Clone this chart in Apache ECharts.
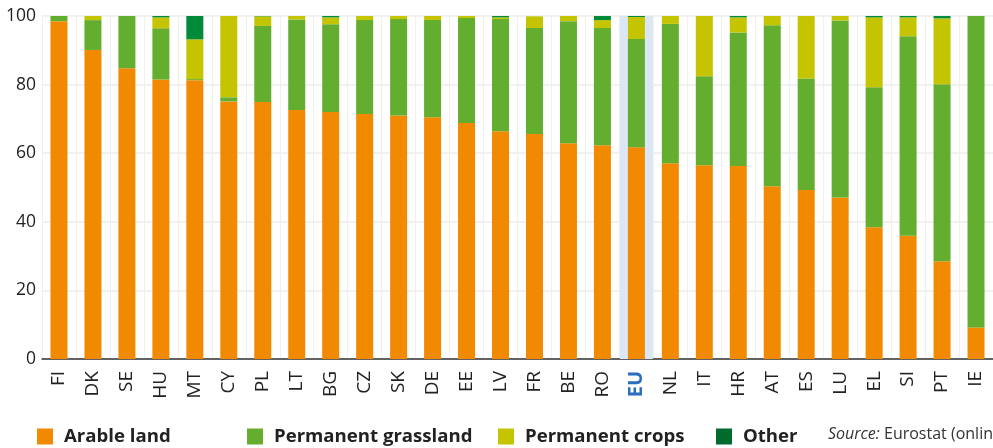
<!DOCTYPE html>
<html>
<head>
<meta charset="utf-8">
<script src="https://cdn.jsdelivr.net/npm/echarts@6/dist/echarts.min.js"></script>
<style>
html,body{margin:0;padding:0;background:#fff;}
#chart{width:993px;height:448px;}
</style>
</head>
<body>
<div id="chart"></div>
<script>
var categories = ['FI','DK','SE','HU','MT','CY','PL','LT','BG','CZ','SK','DE','EE','LV','FR','BE','RO','EU','NL','IT','HR','AT','ES','LU','EL','SI','PT','IE'];
var arableLand = [98.5,90.1,84.8,81.5,81.3,75.1,74.9,72.6,72.0,71.4,71.0,70.5,68.8,66.4,65.6,62.9,62.3,61.7,57.1,56.5,56.3,50.4,49.3,47.1,38.4,35.9,28.5,9.2];
var permanentGrassland = [1.5,8.7,15.2,14.9,0.3,1.2,22.2,26.4,25.6,27.4,28.1,28.3,30.6,32.7,30.9,35.6,34.2,31.6,40.6,25.9,38.9,46.9,32.5,51.6,40.8,58.2,51.6,90.8];
var permanentCrops = [0,1.2,0,3.2,11.6,23.7,2.8,1.0,2.0,1.2,0.9,1.2,0.6,0.5,3.4,1.5,2.3,6.4,2.3,17.6,4.4,2.7,18.2,1.3,20.4,5.5,19.2,0];
var other = [0,0,0,0.4,6.8,0,0.1,0,0.4,0,0,0,0,0.4,0,0,1.2,0.3,0,0,0.4,0,0,0,0.4,0.4,0.7,0];
var yTicks = [0,20,40,60,80,100];
var highlightCategory = 'EU';
var seriesNames = ['Arable land','Permanent grassland','Permanent crops','Other'];
var sourceText = 'Eurostat (online data code: ef_lus_main)';

var colors = ['#f18a00','#63ad2f','#c4c400','#008a3a'];
var font = "'Open Sans', 'DejaVu Sans', sans-serif";

var chart = echarts.init(document.getElementById('chart'), null, {renderer:'canvas'});

var bandData = categories.map(function(c){ return c === highlightCategory ? 100 : null; });

function makeLegend(name, left, iconColor){
  return {
    data: [{name: name, itemStyle: iconColor ? {color: iconColor} : undefined}],
    left: left,
    top: 427,
    padding: 0,
    icon: 'rect',
    itemWidth: 16,
    itemHeight: 16,
    selectedMode: false,
    textStyle: {fontFamily: font, fontSize: 18.6, fontWeight: 'bold', color: '#222', padding: [0,0,0,6]}
  };
}

var option = {
  animation: false,
  backgroundColor: '#fff',
  grid: {left: 42, right: 0, top: 16, bottom: 89, containLabel: false},
  legend: [
    makeLegend(seriesNames[0], 37),
    makeLegend(seriesNames[1], 247),
    makeLegend(seriesNames[2], 498),
    makeLegend(seriesNames[3], 716, '#006b2d')
  ],
  xAxis: [{
    type: 'category',
    data: categories,
    boundaryGap: true,
    axisLine: {show: true, lineStyle: {color: '#333', width: 1.5}},
    axisTick: {show: false},
    splitLine: {show: true, interval: 0, lineStyle: {color: '#f1f1ea', width: 1}},
    axisLabel: {
      interval: 0,
      rotate: 90,
      margin: 12,
      fontFamily: font,
      fontSize: 19,
      color: '#222',
      formatter: function(v){ return v === highlightCategory ? '{eu|' + v + '}' : v; },
      rich: {eu: {fontFamily: font, fontSize: 20, fontWeight: 'bold', color: '#2a6ebd'}}
    }
  },{
    type: 'category',
    data: categories,
    show: false,
    boundaryGap: true
  }],
  yAxis: {
    type: 'value',
    min: yTicks[0],
    max: yTicks[yTicks.length-1],
    interval: 20,
    axisLine: {show: false},
    axisTick: {show: false},
    splitLine: {show: true, lineStyle: {color: '#ececec', width: 1.5}},
    axisLabel: {margin: 6, fontFamily: font, fontSize: 17.5, color: '#222'}
  },
  graphic: [{
    type: 'text',
    left: 828,
    top: 426,
    style: {
      text: '{i|Source:} ' + sourceText,
      font: '16px ' + font,
      fill: '#333',
      rich: {i: {fontStyle: 'italic', fontFamily: font, fontSize: 16, fill: '#333'}}
    }
  }],
  series: [
    {
      name: 'highlight',
      type: 'bar',
      xAxisIndex: 1,
      data: bandData,
      barWidth: 33,
      itemStyle: {color: '#dbe7f7'},
      z: 1,
      silent: true
    },
    {name: seriesNames[0], type: 'bar', stack: 'land', data: arableLand, barWidth: 17, itemStyle: {color: colors[0]}, z: 3},
    {name: seriesNames[1], type: 'bar', stack: 'land', data: permanentGrassland, barWidth: 17, itemStyle: {color: colors[1]}, z: 3},
    {name: seriesNames[2], type: 'bar', stack: 'land', data: permanentCrops, barWidth: 17, itemStyle: {color: colors[2]}, z: 3},
    {name: seriesNames[3], type: 'bar', stack: 'land', data: other, barWidth: 17, itemStyle: {color: colors[3]}, z: 3}
  ]
};
chart.setOption(option);
</script>
</body>
</html>
